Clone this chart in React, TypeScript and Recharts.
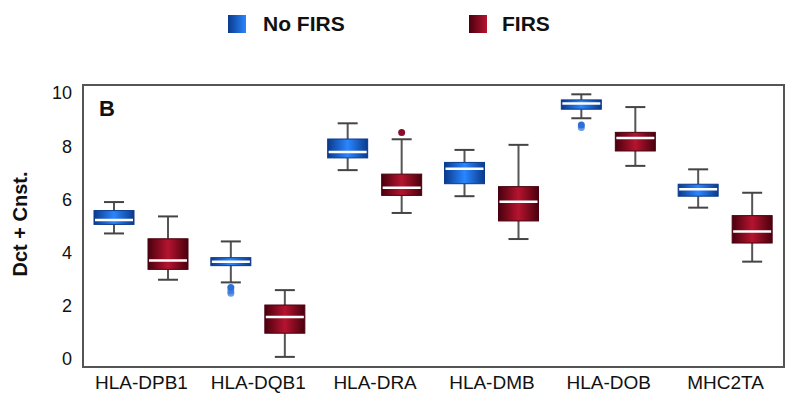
import React from 'react';
import { ComposedChart, Bar, XAxis, YAxis } from 'recharts';

const categories = ['HLA-DPB1', 'HLA-DQB1', 'HLA-DRA', 'HLA-DMB', 'HLA-DOB', 'MHC2TA'];

// No FIRS (blue)
const noFirsMin = [4.72, 2.88, 7.1, 6.12, 9.05, 5.69];
const noFirsQ1 = [5.06, 3.51, 7.56, 6.59, 9.39, 6.12];
const noFirsMedian = [5.23, 3.66, 7.78, 7.15, 9.6, 6.38];
const noFirsQ3 = [5.58, 3.81, 8.27, 7.39, 9.74, 6.57];
const noFirsMax = [5.9, 4.42, 8.86, 7.86, 9.95, 7.13];
const noFirsOutliers = [[], [2.69, 2.57, 2.47], [], [], [8.8, 8.7], []];

// FIRS (red)
const firsMin = [2.98, 0.08, 5.49, 4.51, 7.26, 3.66];
const firsQ1 = [3.37, 0.97, 6.15, 5.19, 7.82, 4.36];
const firsMedian = [3.7, 1.58, 6.44, 5.91, 8.31, 4.79];
const firsQ3 = [4.52, 2.03, 6.95, 6.48, 8.52, 5.39];
const firsMax = [5.36, 2.59, 8.26, 8.05, 9.47, 6.25];
const firsOutliers = [[], [], [8.51], [], [], []];

const yTicks = [0, 2, 4, 6, 8, 10];

const FONT = "Arial, 'Liberation Sans', sans-serif";
const FRAME = '#555';

const data = categories.map((name, i) => ({
  name,
  noFirsRange: [noFirsMin[i], noFirsMax[i]],
  noFirs: {
    min: noFirsMin[i], q1: noFirsQ1[i], med: noFirsMedian[i], q3: noFirsQ3[i],
    max: noFirsMax[i], out: noFirsOutliers[i],
  },
  firsRange: [firsMin[i], firsMax[i]],
  firs: {
    min: firsMin[i], q1: firsQ1[i], med: firsMedian[i], q3: firsQ3[i],
    max: firsMax[i], out: firsOutliers[i],
  },
}));

const palette = {
  noFirs: { dark: '#0a3a8c', bright: '#2a86ff', dot: '#2d6fd8' },
  firs: { dark: '#4a000e', bright: '#b5142f', dot: '#8a0c28' },
};

function makeBox(key: 'noFirs' | 'firs') {
  const col = palette[key];
  return (props: any) => {
    const { x, y, width, height, payload, index } = props;
    const s = payload[key];
    const top = Math.min(y, y + height);
    const h = Math.abs(height);
    const toY = (v: number) => top + ((s.max - v) * h) / (s.max - s.min);
    const cx = x + width / 2;
    const cap = width / 2;
    const gid = `grad-${key}-${index}`;
    return (
      <g>
        <defs>
          <linearGradient id={gid} x1="0" y1="0" x2="1" y2="0">
            <stop offset="0%" stopColor={col.dark} />
            <stop offset="50%" stopColor={col.bright} />
            <stop offset="100%" stopColor={col.dark} />
          </linearGradient>
        </defs>
        <line x1={cx} x2={cx} y1={toY(s.max)} y2={toY(s.q3)} stroke="#555" strokeWidth={2} />
        <line x1={cx} x2={cx} y1={toY(s.q1)} y2={toY(s.min)} stroke="#555" strokeWidth={2} />
        <line x1={cx - cap / 2} x2={cx + cap / 2} y1={toY(s.max)} y2={toY(s.max)} stroke="#444" strokeWidth={2} />
        <line x1={cx - cap / 2} x2={cx + cap / 2} y1={toY(s.min)} y2={toY(s.min)} stroke="#444" strokeWidth={2} />
        <rect
          x={x}
          y={toY(s.q3)}
          width={width}
          height={toY(s.q1) - toY(s.q3)}
          fill={`url(#${gid})`}
          stroke={col.dark}
          strokeWidth={1}
        />
        <line x1={x + 1} x2={x + width - 1} y1={toY(s.med)} y2={toY(s.med)} stroke="#fff" strokeWidth={2.5} />
        {s.out.map((v: number, j: number) => (
          <circle key={j} cx={cx} cy={toY(v)} r={3.5} fill={col.dot} opacity={j === 0 ? 1 : 0.7} />
        ))}
      </g>
    );
  };
}

const BlueBox = makeBox('noFirs');
const RedBox = makeBox('firs');

function LegendSwatch({ left, dark, bright }: { left: number; dark: string; bright: string }) {
  return (
    <div
      style={{
        position: 'absolute',
        left,
        top: 15,
        width: 18,
        height: 18,
        background: `linear-gradient(to right, ${dark}, ${bright})`,
      }}
    />
  );
}

export default function App() {
  return (
    <div style={{ position: 'absolute', left: 0, top: 0, width: 800, height: 402, background: '#fff', fontFamily: FONT }}>
      <ComposedChart
        width={800}
        height={402}
        data={data}
        margin={{ top: 85, right: 16, bottom: 0, left: 0 }}
        barSize={40}
        barGap={14}
      >
        <XAxis
          dataKey="name"
          tickLine={false}
          tickSize={0}
          tickMargin={9}
          axisLine={false}
          tick={{ fontSize: 19, fill: '#111', fontFamily: FONT }}
          height={35}
        />
        <YAxis
          domain={[-0.3, 10.3]}
          ticks={yTicks}
          width={83}
          tickLine={false}
          tickSize={0}
          tickMargin={11}
          axisLine={false}
          tick={{ fontSize: 18, fill: '#111', fontFamily: FONT }}
        />
        <Bar dataKey="noFirsRange" shape={BlueBox} isAnimationActive={false} />
        <Bar dataKey="firsRange" shape={RedBox} isAnimationActive={false} />
      </ComposedChart>

      {/* plot frame */}
      <div
        style={{
          position: 'absolute',
          left: 82,
          top: 84,
          width: 703,
          height: 284,
          boxSizing: 'border-box',
          border: `2px solid ${FRAME}`,
          pointerEvents: 'none',
        }}
      />

      <LegendSwatch left={228} dark={palette.noFirs.dark} bright={palette.noFirs.bright} />
      <div style={{ position: 'absolute', left: 263, top: 11, fontSize: 21, fontWeight: 'bold', color: '#111', lineHeight: '26px' }}>
        No FIRS
      </div>
      <LegendSwatch left={469} dark={palette.firs.dark} bright={palette.firs.bright} />
      <div style={{ position: 'absolute', left: 502, top: 11, fontSize: 21, fontWeight: 'bold', color: '#111', lineHeight: '26px' }}>
        FIRS
      </div>

      <div style={{ position: 'absolute', left: 99, top: 96, fontSize: 22, fontWeight: 'bold', color: '#111', lineHeight: '26px' }}>
        B
      </div>

      <div style={{ position: 'absolute', left: 20, top: 224, width: 0, height: 0 }}>
        <div
          style={{
            position: 'absolute',
            transform: 'translate(-50%, -50%) rotate(-90deg)',
            whiteSpace: 'nowrap',
            fontSize: 20,
            fontWeight: 'bold',
            color: '#111',
          }}
        >
          Dct + Cnst.
        </div>
      </div>
    </div>
  );
}
